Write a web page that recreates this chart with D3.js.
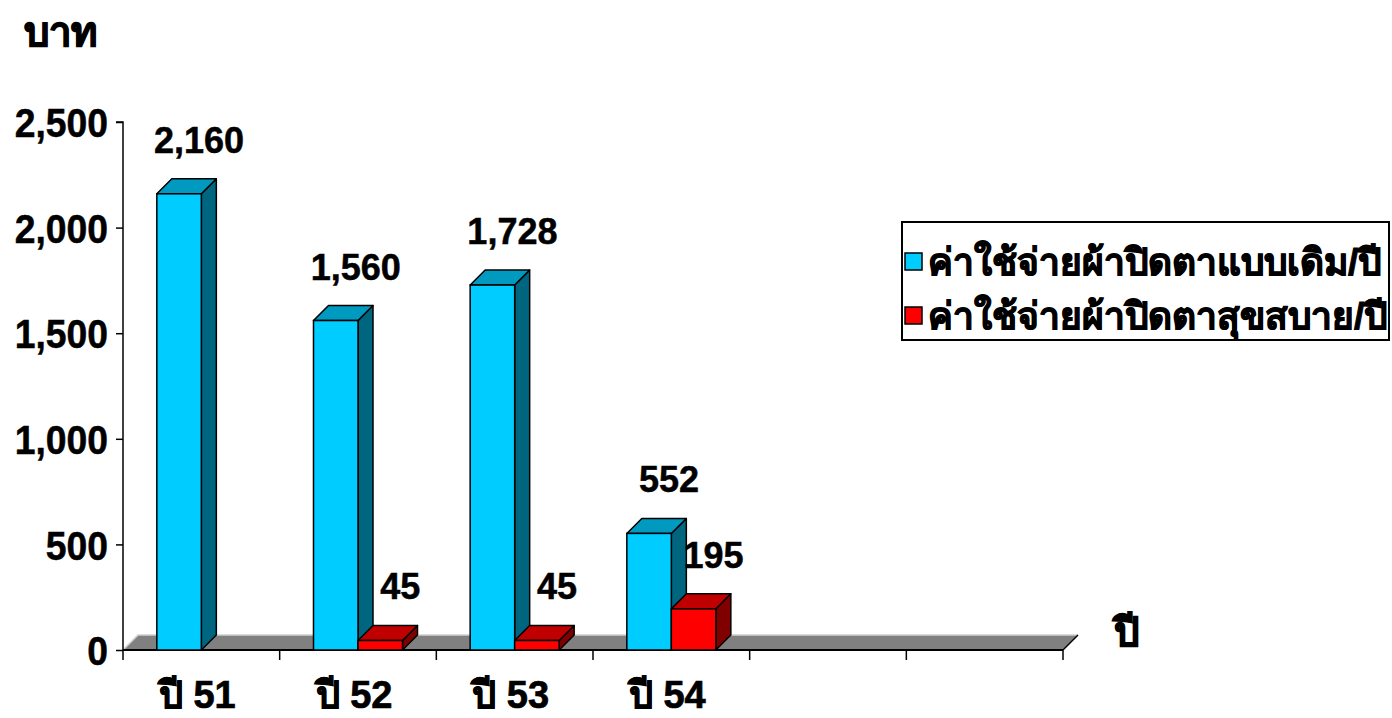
<!DOCTYPE html>
<html><head><meta charset="utf-8">
<script src="https://cdn.jsdelivr.net/npm/d3@7"></script>
<style>
html,body{margin:0;padding:0;background:#fff;}
svg text{font-family:"Liberation Sans",Arial,sans-serif;font-weight:bold;}
</style></head>
<body>
<svg id="c" width="1392" height="718"></svg>
<script>
const categories = ["ปี 51", "ปี 52", "ปี 53", "ปี 54", "", ""];
const seriesNames = ["ค่าใช้จ่ายผ้าปิดตาแบบเดิม/ปี", "ค่าใช้จ่ายผ้าปิดตาสุขสบาย/ปี"];
const oldCost = [2160, 1560, 1728, 552, null, null];
const newCost = [null, 45, 45, 195, null, null];
const yTicks = [0, 500, 1000, 1500, 2000, 2500];
const yTitle = "บาท";
const xTitle = "ปี";

(function () {
const svg = d3.select("#c");
const pL = 123, pR = 1063, pT = 122, pB = 650;
const depth = 15;
const y = d3.scaleLinear().domain([0, 2500]).range([pB, pT]);
const x = d3.scaleBand().domain(d3.range(categories.length)).range([pL, pR]);
const inner = d3.scaleBand().domain([0, 1]).range([0, x.bandwidth()]).paddingOuter(0.76);

const faces = [
  {front: "#00CCFF", top: "#0099C0", side: "#00667F"},
  {front: "#FF0000", top: "#C00000", side: "#800000"}
];

// floor
svg.append("polygon")
  .attr("points", [[pL, pB], [pL + depth, pB - depth], [pR + depth, pB - depth], [pR, pB]].map(p => p.join(",")).join(" "))
  .attr("fill", "#808080");
svg.append("polyline")
  .attr("points", [[pL, pB], [pL + depth, pB - depth], [pR + depth, pB - depth]].map(p => p.join(",")).join(" "))
  .attr("fill", "none").attr("stroke", "#d0d0d0").attr("stroke-width", 1.5);
svg.append("line").attr("x1", pR).attr("y1", pB).attr("x2", pR + depth).attr("y2", pB - depth)
  .attr("stroke", "#000").attr("stroke-width", 1.5);

// axes
const yAxis = d3.axisLeft(y).tickValues(yTicks).tickFormat(d3.format(",")).tickSize(7).tickPadding(8);
const gy = svg.append("g").attr("transform", `translate(${pL},0)`).call(yAxis);
gy.select(".domain").attr("stroke", "#000").attr("stroke-width", 1.5).attr("d", `M-7,${pT}H0V${pB}`);
gy.selectAll(".tick line").attr("stroke-width", 1.5);
gy.selectAll("text").attr("font-size", 41).attr("fill", "#000").attr("dy", "0.36em")
  .attr("x", 0).attr("transform", "translate(-15,0) scale(0.91,1)")
  .attr("stroke", "#000").attr("stroke-width", 0.5);

const xAxis = d3.axisBottom(x).tickFormat(i => categories[i]).tickSize(0).tickPadding(0);
const gx = svg.append("g").attr("transform", `translate(0,${pB})`).call(xAxis);
gx.select(".domain").attr("stroke", "#000").attr("stroke-width", 2).attr("d", `M${pL},0H${pR}`);
gx.selectAll("text").attr("font-size", 38).attr("fill", "#000").attr("y", 58).attr("dy", 0).attr("dx", "-4")
  .attr("stroke", "#000").attr("stroke-width", 0.7);
// category boundary ticks
svg.append("g").selectAll("line").data(d3.range(categories.length + 1)).join("line")
  .attr("x1", i => i < categories.length ? x(i) : pR).attr("x2", i => i < categories.length ? x(i) : pR)
  .attr("y1", pB).attr("y2", pB + 10).attr("stroke", "#000").attr("stroke-width", 1.5);

// bars
function bar3d(g, x0, w, v, f) {
  const y0 = y(0), y1 = y(v);
  g.append("polygon").attr("points", [[x0 + w, y0], [x0 + w + depth, y0 - depth], [x0 + w + depth, y1 - depth], [x0 + w, y1]].join(" "))
    .attr("fill", f.side).attr("stroke", "#000").attr("stroke-width", 1.5).attr("stroke-linejoin", "round");
  g.append("polygon").attr("points", [[x0, y1], [x0 + depth, y1 - depth], [x0 + w + depth, y1 - depth], [x0 + w, y1]].join(" "))
    .attr("fill", f.top).attr("stroke", "#000").attr("stroke-width", 1.5).attr("stroke-linejoin", "round");
  g.append("rect").attr("x", x0).attr("y", y1).attr("width", w).attr("height", y0 - y1)
    .attr("fill", f.front).attr("stroke", "#000").attr("stroke-width", 1.5);
}
const bars = svg.append("g");
const labels = svg.append("g");
categories.forEach((c, i) => {
  [oldCost, newCost].forEach((arr, s) => {
    const v = arr[i];
    if (v == null) return;
    const x0 = x(i) + inner(s), w = inner.bandwidth();
    bar3d(bars, x0, w, v, faces[s]);
    labels.append("text").attr("x", x0 + w / 2 + 20).attr("y", y(v) - 41)
      .attr("text-anchor", "middle").attr("font-size", 36)
      .attr("stroke", "#000").attr("stroke-width", 0.5).text(d3.format(",")(v));
  });
});

// titles
svg.append("text").attr("x", 24).attr("y", 46).attr("font-size", 40)
  .attr("stroke", "#000").attr("stroke-width", 1.2).text(yTitle);
svg.append("text").attr("x", 1114).attr("y", 646).attr("font-size", 40)
  .attr("stroke", "#000").attr("stroke-width", 1.2).text(xTitle);

// legend
const lg = svg.append("g");
lg.append("rect").attr("x", 902).attr("y", 222).attr("width", 487).attr("height", 118)
  .attr("fill", "#fff").attr("stroke", "#000").attr("stroke-width", 2);
seriesNames.forEach((n, s) => {
  const cy = 261 + s * 54;
  lg.append("rect").attr("x", 905).attr("y", cy - 8).attr("width", 17).attr("height", 17)
    .attr("fill", faces[s].front).attr("stroke", "#000").attr("stroke-width", 1.5);
  lg.append("text").attr("x", 928).attr("y", cy + 14).attr("font-size", 37)
    .attr("stroke", "#000").attr("stroke-width", 1).text(n);
});
})();
</script>
</body></html>
